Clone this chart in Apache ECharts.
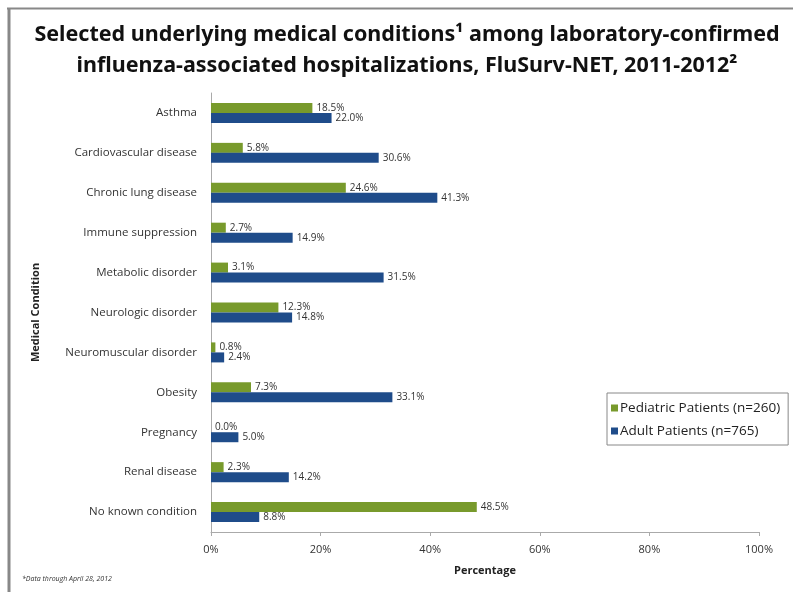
<!DOCTYPE html>
<html><head><meta charset="utf-8">
<script src="https://cdn.jsdelivr.net/npm/echarts@6/dist/echarts.min.js"></script>
<style>html,body{margin:0;padding:0;background:#fff}#c{width:793px;height:592px}</style>
</head><body><div id="c"></div>
<script>
const categories = ['Asthma','Cardiovascular disease','Chronic lung disease','Immune suppression','Metabolic disorder','Neurologic disorder','Neuromuscular disorder','Obesity','Pregnancy','Renal disease','No known condition'];
const pediatric = [18.5, 5.8, 24.6, 2.7, 3.1, 12.3, 0.8, 7.3, 0.0, 2.3, 48.5];
const adult = [22.0, 30.6, 41.3, 14.9, 31.5, 14.8, 2.4, 33.1, 5.0, 14.2, 8.8];
const xTicks = [0, 20, 40, 60, 80, 100];

const chart = echarts.init(document.getElementById('c'), null, {renderer:'canvas'});
const font = 'Open Sans, Liberation Sans, sans-serif';
const lbl = {show:true, position:'right', distance:4, fontSize:10, color:'#333', fontFamily:font, formatter: p => p.value.toFixed(1) + '%'};
chart.setOption({
  animation:false,
  title:{
    text:'Selected underlying medical conditions\u00B9 among laboratory-confirmed\ninfluenza-associated hospitalizations, FluSurv-NET, 2011-2012\u00B2',
    left:402, top:14, textAlign:'center',
    textStyle:{fontFamily:'Noto Sans, sans-serif', fontWeight:'bold', fontSize:21.5, lineHeight:31, color:'#111'}
  },
  legend:{
    orient:'vertical', left:607, top:393,
    data:['Pediatric Patients (n=260)','Adult Patients (n=765)'],
    itemWidth:7, itemHeight:7, itemGap:9, icon:'rect',
    padding:[8,8,7,4],
    borderColor:'#888', borderWidth:1,
    textStyle:{fontSize:13.5, fontFamily:font, color:'#222', padding:[0,0,0,-3]}
  },
  grid:{left:211, right:34, top:93, bottom:60, containLabel:false},
  xAxis:{
    type:'value', min:0, max:100, interval:20,
    name:'Percentage', nameLocation:'middle', nameGap:33,
    nameTextStyle:{fontFamily:font, fontWeight:'bold', fontSize:11, color:'#222'},
    axisLine:{show:true, lineStyle:{color:'#aaa'}},
    axisTick:{show:true, length:4, lineStyle:{color:'#aaa'}},
    axisLabel:{fontSize:11, fontFamily:font, color:'#333', margin:12, formatter: v => v + '%'},
    splitLine:{show:false}
  },
  yAxis:{
    type:'category', data:categories, inverse:true,
    name:'Medical Condition', nameLocation:'middle', nameGap:170, nameRotate:90,
    nameTextStyle:{fontFamily:font, fontWeight:'bold', fontSize:11, color:'#222'},
    axisLine:{show:true, lineStyle:{color:'#aaa'}},
    axisTick:{show:false},
    axisLabel:{fontSize:11.5, fontFamily:font, color:'#333', margin:14}
  },
  series:[
    {name:'Pediatric Patients (n=260)', type:'bar', data:pediatric, barWidth:10, barGap:'0%', itemStyle:{color:'#789a2c'}, label:lbl},
    {name:'Adult Patients (n=765)', type:'bar', data:adult, barWidth:10, barGap:'0%', itemStyle:{color:'#1f4c8a'}, label:lbl}
  ],
  graphic:[
    {type:'line', shape:{x1:7, y1:8.5, x2:793, y2:8.5}, style:{stroke:'#888', lineWidth:2}},
    {type:'line', shape:{x1:9, y1:8, x2:9, y2:592}, style:{stroke:'#888', lineWidth:3}},
    {type:'text', left:22, top:575, style:{text:'*Data through April 28, 2012', fontSize:7, fontStyle:'italic', fontFamily:font, fill:'#333'}}
  ]
});
</script></body></html>
